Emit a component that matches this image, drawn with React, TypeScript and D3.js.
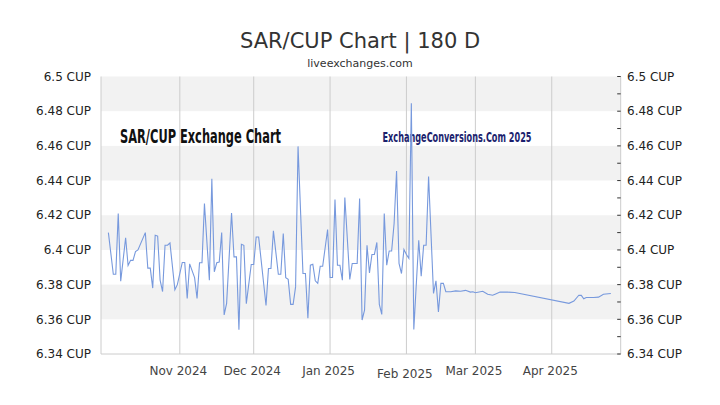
import React from "react";
import * as d3 from "d3";

const dates: string[] = [
  "2024-10-03","2024-10-05","2024-10-06","2024-10-07","2024-10-08","2024-10-10","2024-10-11","2024-10-12","2024-10-13","2024-10-14","2024-10-15","2024-10-18","2024-10-19","2024-10-20","2024-10-21","2024-10-22","2024-10-23","2024-10-24","2024-10-25","2024-10-26","2024-10-27","2024-10-28","2024-10-30","2024-10-31",
  "2024-11-02","2024-11-03","2024-11-04","2024-11-05","2024-11-07","2024-11-08","2024-11-09","2024-11-10","2024-11-11","2024-11-13","2024-11-14","2024-11-15","2024-11-16","2024-11-17","2024-11-18","2024-11-19","2024-11-20","2024-11-22","2024-11-23","2024-11-24","2024-11-25","2024-11-26","2024-11-27","2024-11-28","2024-11-30",
  "2024-12-01","2024-12-02","2024-12-03","2024-12-06","2024-12-07","2024-12-08","2024-12-09","2024-12-11","2024-12-12","2024-12-13","2024-12-14","2024-12-15","2024-12-16","2024-12-17","2024-12-18","2024-12-19","2024-12-21","2024-12-22","2024-12-23","2024-12-24","2024-12-25","2024-12-26","2024-12-27","2024-12-28","2024-12-29","2024-12-31",
  "2025-01-01","2025-01-02","2025-01-03","2025-01-04","2025-01-05","2025-01-06","2025-01-07","2025-01-09","2025-01-10","2025-01-12","2025-01-13","2025-01-14","2025-01-15","2025-01-16","2025-01-17","2025-01-18","2025-01-19","2025-01-20","2025-01-21","2025-01-22","2025-01-23","2025-01-24","2025-01-25","2025-01-26","2025-01-27","2025-01-28","2025-01-29","2025-01-30","2025-01-31",
  "2025-02-01","2025-02-02","2025-02-03","2025-02-04","2025-02-06","2025-02-07","2025-02-08","2025-02-09","2025-02-10","2025-02-12","2025-02-13","2025-02-14","2025-02-15","2025-02-16","2025-02-17","2025-02-19","2025-02-21","2025-02-23","2025-02-25","2025-02-27","2025-02-28",
  "2025-03-01","2025-03-04","2025-03-06","2025-03-08","2025-03-09","2025-03-11","2025-03-14","2025-03-17",
  "2025-04-08","2025-04-10","2025-04-12","2025-04-13","2025-04-14","2025-04-15","2025-04-18","2025-04-20","2025-04-22","2025-04-25"
];

const rates: number[] = [
  6.410,6.386,6.386,6.421,6.382,6.407,6.391,6.394,6.394,6.399,6.400,6.410,6.3895,6.3895,6.378,6.4085,6.408,6.3826,6.376,6.4027,6.4027,6.404,6.377,6.380,
  6.3928,6.3928,6.372,6.392,6.384,6.372,6.3926,6.3926,6.4267,6.3826,6.441,6.3874,6.3926,6.393,6.410,6.3625,6.3692,6.4213,6.396,6.396,6.354,6.4033,6.4027,6.369,6.3916,
  6.3916,6.4075,6.4075,6.368,6.3893,6.3893,6.411,6.386,6.386,6.4095,6.384,6.383,6.3686,6.3686,6.3787,6.4597,6.3864,6.3864,6.3606,6.3912,6.3918,6.3822,6.3807,6.3906,6.3906,6.4118,
  6.3841,6.3841,6.429,6.3912,6.3912,6.3826,6.4302,6.383,6.3922,6.3922,6.4296,6.3596,6.3653,6.4027,6.3868,6.3974,6.3974,6.4043,6.3686,6.3628,6.421,6.3912,6.3994,6.3994,6.4152,6.4455,6.3922,6.3864,6.4003,
  6.3974,6.3951,6.4846,6.3542,6.4056,6.3849,6.4027,6.4027,6.4424,6.3749,6.3822,6.3643,6.3807,6.3807,6.3759,6.3759,6.3764,6.3762,6.3767,6.3757,6.3759,
  6.3753,6.3762,6.3745,6.3739,6.3745,6.3757,6.3757,6.3755,
  6.3692,6.3705,6.3739,6.3738,6.3718,6.3726,6.3726,6.3728,6.3745,6.3749
];

const yTicks: number[] = [6.34, 6.36, 6.38, 6.4, 6.42, 6.44, 6.46, 6.48, 6.5];
const bandRanges: [number, number][] = [[6.36, 6.38], [6.40, 6.42], [6.44, 6.46], [6.48, 6.50]];
const monthTicks: string[] = ["2024-11-01", "2024-12-01", "2025-01-01", "2025-02-01", "2025-03-01", "2025-04-01"];
const monthLabels: string[] = ["Nov 2024", "Dec 2024", "Jan 2025", "Feb 2025", "Mar 2025", "Apr 2025"];
const domainStart = "2024-09-30";
const domainEnd = "2025-04-29";

const parse = (s: string) => {
  const [y, m, d] = s.split("-").map(Number);
  return new Date(y, m - 1, d);
};

export default function App() {
  const left = 101, right = 620.7, top = 76.5, bottom = 354;
  const x = d3.scaleTime().domain([parse(domainStart), parse(domainEnd)]).range([left, right]);
  const y = d3.scaleLinear().domain([6.34, 6.5]).range([bottom, top]);
  const data = dates.map((d, i) => ({ date: parse(d), v: rates[i] }));
  const line = d3.line<{ date: Date; v: number }>().x(d => x(d.date)).y(d => y(d.v));
  const minorTicks = d3.range(0, 17).map(i => 6.34 + i * 0.01);
  const font = "'DejaVu Sans', Verdana, sans-serif";

  return (
    <svg width={720} height={405} style={{ position: "absolute", left: 0, top: 0, background: "#fff" }} fontFamily={font}>
      <rect x={0} y={0} width={720} height={405} fill="#fff" />
      <text x={360} y={48} textAnchor="middle" fontSize={21} fill="#333">SAR/CUP Chart | 180 D</text>
      <text x={360} y={67} textAnchor="middle" fontSize={11} fill="#333">liveexchanges.com</text>

      {bandRanges.map(([a, b], i) => (
        <rect key={i} x={left} y={y(b)} width={right - left} height={y(a) - y(b)} fill="#f2f2f2" />
      ))}

      {monthTicks.map((m, i) => (
        <line key={i} x1={x(parse(m))} x2={x(parse(m))} y1={top} y2={bottom} stroke="#cccccc" strokeWidth={1} />
      ))}

      <line x1={left} x2={left} y1={top} y2={bottom} stroke="#cccccc" />
      <line x1={left} x2={right} y1={bottom} y2={bottom} stroke="#cccccc" />
      <line x1={right} x2={right} y1={top} y2={bottom} stroke="#cccccc" />

      {minorTicks.map((t, i) => (
        <line key={i} x1={right - 3.5} x2={right} y1={y(t)} y2={y(t)} stroke="#333" strokeWidth={1} />
      ))}

      {yTicks.map((t, i) => (
        <g key={i}>
          <text x={91} y={y(t)} dy="0.35em" textAnchor="end" fontSize={12} fill="#222">{`${d3.format("~g")(t)} CUP`}</text>
          <text x={627} y={y(t)} dy="0.35em" textAnchor="start" fontSize={12} fill="#222">{`${d3.format("~g")(t)} CUP`}</text>
        </g>
      ))}

      {monthTicks.map((m, i) => (
        <text key={i} x={x(parse(m)) - 1.5} y={i === 3 ? 378 : 375} textAnchor="middle" fontSize={12} fill="#444">{monthLabels[i]}</text>
      ))}

      <text x={120} y={143} fontFamily="'DejaVu Sans Condensed', 'DejaVu Sans', sans-serif" fontWeight="bold" fontSize={20} fill="#111" textLength={161} lengthAdjust="spacingAndGlyphs">SAR/CUP Exchange Chart</text>
      <text x={382.5} y={142} fontFamily="'DejaVu Sans Condensed', 'DejaVu Sans', sans-serif" fontWeight="bold" fontSize={13.5} fill="#1c1f6e" textLength={149} lengthAdjust="spacingAndGlyphs">ExchangeConversions.Com 2025</text>

      <path d={line(data) || ""} fill="none" stroke="#7799dd" strokeWidth={1.1} />
    </svg>
  );
}
